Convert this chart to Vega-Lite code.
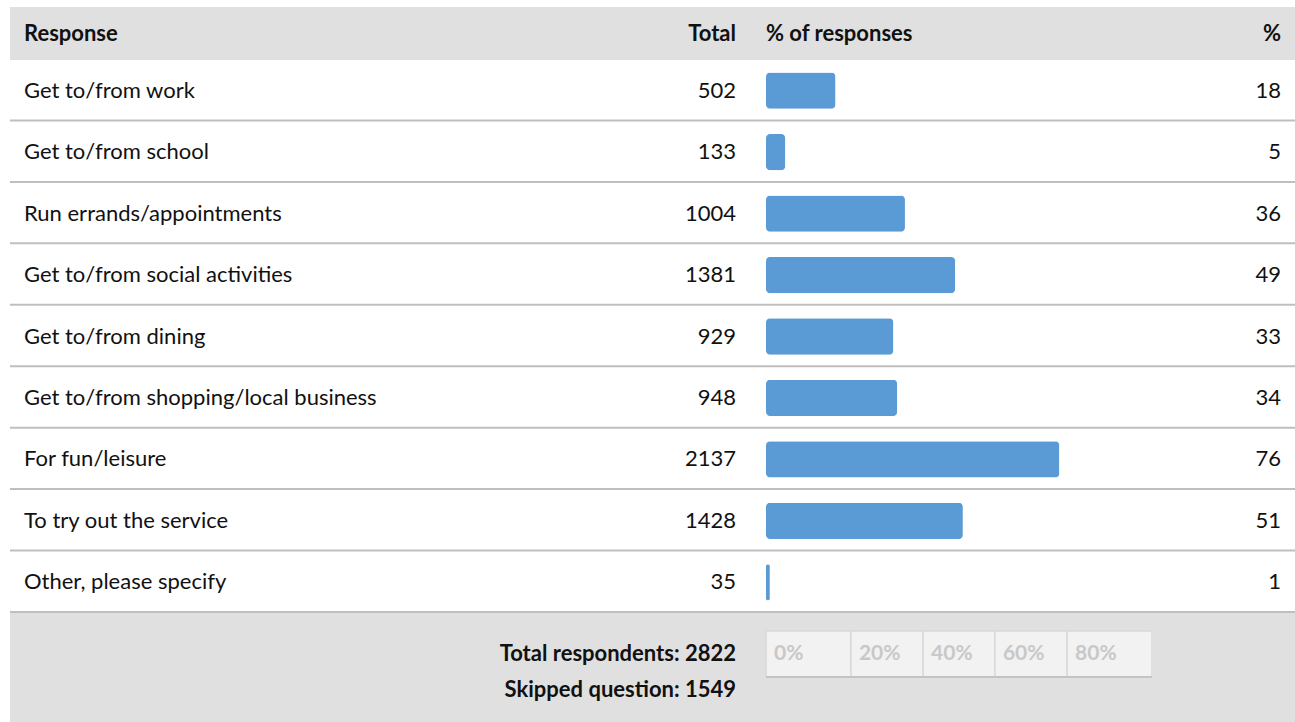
{
  "$schema": "https://vega.github.io/schema/vega-lite/v6.json",
  "padding": {"left": 9, "top": 7, "right": 0, "bottom": 0},
  "bounds": "flush",
  "spacing": 0,
  "columns": 3,
  "align": "each",
  "config": {"view": {"stroke": null}, "concat": {"spacing": 0}, "font": "Lato", "text": {"color": "#111111"}},
  "datasets": {
    "header": [{"c1": "Response", "c2": "Total", "c3": "% of responses", "c4": "%"}],
    "rows": [
      {"response": "Get to/from work", "total": 502, "pct": 18},
      {"response": "Get to/from school", "total": 133, "pct": 5},
      {"response": "Run errands/appointments", "total": 1004, "pct": 36},
      {"response": "Get to/from social activities", "total": 1381, "pct": 49},
      {"response": "Get to/from dining", "total": 929, "pct": 33},
      {"response": "Get to/from shopping/local business", "total": 948, "pct": 34},
      {"response": "For fun/leisure", "total": 2137, "pct": 76},
      {"response": "To try out the service", "total": 1428, "pct": 51},
      {"response": "Other, please specify", "total": 35, "pct": 1}
    ],
    "footer": [
      {"row": "respondents", "label": "Total respondents: 2822"},
      {"row": "skipped", "label": "Skipped question: 1549"}
    ],
    "legend": [
      {"row": "respondents", "start": 0, "end": 22, "label": "0%"},
      {"row": "respondents", "start": 22, "end": 40.7, "label": "20%"},
      {"row": "respondents", "start": 40.7, "end": 59.3, "label": "40%"},
      {"row": "respondents", "start": 59.3, "end": 78, "label": "60%"},
      {"row": "respondents", "start": 78, "end": 100, "label": "80%"}
    ]
  },
  "concat": [
    {
      "width": 756, "height": 53,
      "view": {"fill": "#e0e0e0", "stroke": null},
      "data": {"name": "header"},
      "layer": [
        {"mark": {"type": "text", "align": "left", "baseline": "middle", "fontWeight": "bold", "fontSize": 22, "dx": 14},
         "encoding": {"text": {"field": "c1"}, "x": {"value": 0}}},
        {"mark": {"type": "text", "align": "right", "baseline": "middle", "fontWeight": "bold", "fontSize": 22, "dx": -30},
         "encoding": {"text": {"field": "c2"}, "x": {"value": "width"}}}
      ]
    },
    {
      "width": 386, "height": 53,
      "view": {"fill": "#e0e0e0", "stroke": null},
      "data": {"name": "header"},
      "mark": {"type": "text", "align": "left", "baseline": "middle", "fontWeight": "bold", "fontSize": 22, "dx": 0},
      "encoding": {"text": {"field": "c3"}, "x": {"value": 0}}
    },
    {
      "width": 144, "height": 53,
      "view": {"fill": "#e0e0e0", "stroke": null},
      "data": {"name": "header"},
      "mark": {"type": "text", "align": "right", "baseline": "middle", "fontWeight": "bold", "fontSize": 22, "dx": -15},
      "encoding": {"text": {"field": "c4"}, "x": {"value": "width"}}
    },
    {
      "width": 756, "height": 553,
      "data": {"name": "rows"},
      "encoding": {"y": {"field": "response", "type": "nominal", "sort": null, "axis": null, "scale": {"type": "band", "paddingInner": 0, "paddingOuter": 0}}},
      "layer": [
        {"mark": {"type": "rule", "color": "#bfbfbf", "strokeWidth": 2, "yOffset": -1}, "encoding": {"y": {"field": "response", "type": "nominal", "sort": null, "bandPosition": 1}}},
        {"mark": {"type": "text", "align": "left", "baseline": "middle", "fontSize": 22, "dx": 14},
         "encoding": {"text": {"field": "response"}, "x": {"value": 0}}},
        {"mark": {"type": "text", "align": "right", "baseline": "middle", "fontSize": 22, "dx": -30},
         "encoding": {"text": {"field": "total"}, "x": {"value": "width"}}}
      ]
    },
    {
      "width": 386, "height": 553,
      "data": {"name": "rows"},
      "encoding": {"y": {"field": "response", "type": "nominal", "sort": null, "axis": null, "scale": {"type": "band", "paddingInner": 0, "paddingOuter": 0}}},
      "layer": [
        {"mark": {"type": "rule", "color": "#bfbfbf", "strokeWidth": 2, "yOffset": -1}, "encoding": {"y": {"field": "response", "type": "nominal", "sort": null, "bandPosition": 1}}},
        {"mark": {"type": "bar", "color": "#5b9bd5", "cornerRadius": 4, "height": {"band": 0.59}},
         "encoding": {"x": {"field": "pct", "type": "quantitative", "axis": null, "scale": {"domain": [0, 100]}}}}
      ]
    },
    {
      "width": 144, "height": 553,
      "data": {"name": "rows"},
      "encoding": {"y": {"field": "response", "type": "nominal", "sort": null, "axis": null, "scale": {"type": "band", "paddingInner": 0, "paddingOuter": 0}}},
      "layer": [
        {"mark": {"type": "rule", "color": "#bfbfbf", "strokeWidth": 2, "yOffset": -1}, "encoding": {"y": {"field": "response", "type": "nominal", "sort": null, "bandPosition": 1}}},
        {"mark": {"type": "text", "align": "right", "baseline": "middle", "fontSize": 22, "dx": -15},
         "encoding": {"text": {"field": "pct"}, "x": {"value": "width"}}}
      ]
    },
    {
      "width": 756, "height": 109,
      "view": {"fill": "#e0e0e0", "stroke": null},
      "data": {"name": "footer"},
      "mark": {"type": "text", "align": "right", "baseline": "middle", "fontWeight": "bold", "fontSize": 22, "dx": -30},
      "encoding": {
        "text": {"field": "label"},
        "x": {"value": "width"},
        "y": {"field": "row", "type": "nominal", "sort": null, "axis": null, "scale": {"type": "band", "paddingInner": 0, "paddingOuter": 0.514, "align": 0.62}}
      }
    },
    {
      "width": 386, "height": 109,
      "view": {"fill": "#e0e0e0", "stroke": null},
      "data": {"name": "legend"},
      "encoding": {
        "y": {"field": "row", "type": "nominal", "axis": null, "scale": {"type": "band", "domain": ["respondents", "skipped"], "paddingInner": 0, "paddingOuter": 0.514, "align": 0.62}}
      },
      "layer": [
        {"mark": {"type": "bar", "height": {"band": 1.28}, "fill": "#f2f2f2", "stroke": "#d9d9d9", "strokeWidth": 1.5},
         "encoding": {
           "x": {"field": "start", "type": "quantitative", "axis": null, "scale": {"domain": [0, 100]}},
           "x2": {"field": "end"}
         }},
        {"mark": {"type": "rule", "color": "#c4c4c4", "strokeWidth": 2},
         "encoding": {
           "x": {"field": "start", "type": "quantitative"},
           "x2": {"field": "end"},
           "y": {"field": "row", "type": "nominal", "bandPosition": 1.14}
         }},
        {"mark": {"type": "text", "align": "left", "baseline": "middle", "fontWeight": "bold", "fontSize": 21, "color": "#c8c8c8", "dx": 8},
         "encoding": {
           "x": {"field": "start", "type": "quantitative"},
           "text": {"field": "label"}
         }}
      ]
    },
    {
      "width": 144, "height": 109,
      "view": {"fill": "#e0e0e0", "stroke": null},
      "data": {"name": "footer"},
      "mark": {"type": "text", "text": ""},
      "encoding": {}
    }
  ]
}
